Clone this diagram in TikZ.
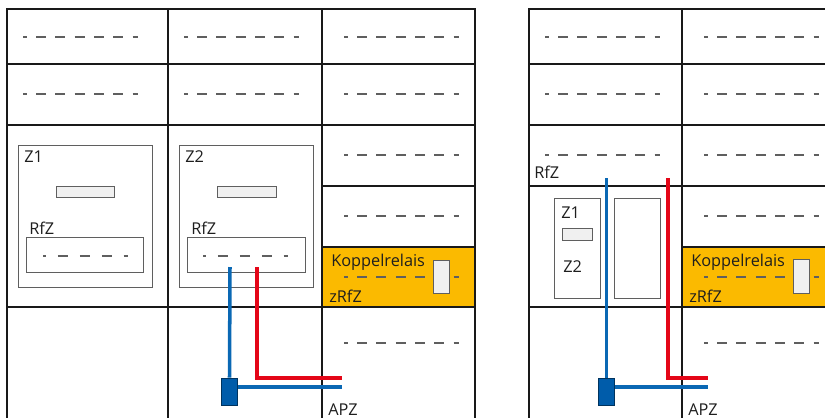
\documentclass[tikz,border=0pt]{standalone}
\usepackage{fontspec}
\setmainfont{Open Sans}
\usetikzlibrary{positioning}

\definecolor{relaisorange}{RGB}{251,186,0}
\definecolor{wireblue}{RGB}{10,104,180}
\definecolor{klemmeblue}{RGB}{0,92,170}
\definecolor{wirered}{RGB}{228,6,24}
\definecolor{boxgray}{RGB}{240,240,240}
\definecolor{linegray}{RGB}{95,95,95}
\definecolor{txt}{RGB}{30,30,30}

\tikzset{
  frame/.style={line width=1.1pt,black!90},
  meterbox/.style={draw=linegray,line width=0.7pt},
  displaybox/.style={draw=linegray,fill=boxgray,line width=0.7pt},
  dashrow/.style={draw=linegray,line width=0.75pt,dash pattern=on 7.1pt off 6.6pt,dash phase=4.3pt},
  innerdash/.style={draw=linegray,line width=0.75pt,dash pattern=on 7.1pt off 8.5pt,dash phase=5pt},
  bluewire/.style={wireblue,line width=2.5pt},
  redwire/.style={wirered,line width=2.5pt},
  klemme/.style={draw=klemmeblue!55!black,fill=klemmeblue,line width=0.7pt,
    minimum width=10.7pt,minimum height=19.2pt,inner sep=0pt},
  lbl/.style={anchor=base west,inner sep=0pt,text=txt,font=\fontsize{11.6}{13}\selectfont}
}

\begin{document}
\begin{tikzpicture}[x=0.025cm,y=-0.025cm]
  \clip (0,0) rectangle (825,417);

  % orange Koppelrelais rows
  \fill[relaisorange] (322,247) rectangle (475,307);
  \fill[relaisorange] (682,247) rectangle (840,307);

  % dashed placeholders
  \foreach \x/\y in {23/37,184/37,344/37,23/94,184/94,344/94,344/155,344/216,344/277,344/343,
                     545/37,545/94,545/155,704/37,704/94,704/155,704/216,704/277,704/343}
    \draw[dashrow] (\x,\y) -- ++(115,0);

  % left cabinet
  \draw[frame] (7,9) rectangle (475,440);
  \draw[frame] (168,9) -- (168,440) (322,9) -- (322,440);
  \foreach \y in {64,125,307}
    \draw[frame] (7,\y) -- (475,\y);
  \draw[frame] (322,186) -- (475,186) (322,247) -- (475,247);

  % right cabinet
  \draw[frame] (529,9) rectangle (840,440);
  \draw[frame] (682,9) -- (682,440);
  \foreach \y in {64,125,186,307}
    \draw[frame] (529,\y) -- (840,\y);
  \draw[frame] (682,247) -- (840,247);

  % meters left
  \draw[meterbox] (18,145) rectangle (152,287);
  \draw[displaybox] (56,186) rectangle (114,197);
  \draw[meterbox] (26,237) rectangle (143,272);
  \draw[innerdash] (43,256) -- ++(85,0);
  \node[lbl] (z1) at (24,162) {Z1};
  \node[lbl] (rfz1) at (29,234) {RfZ};

  \draw[meterbox] (179,145) rectangle (313,287);
  \draw[displaybox] (217,186) rectangle (276,197);
  \draw[meterbox] (187,237) rectangle (305,272);
  \draw[innerdash] (203,256) -- ++(85,0);
  \node[lbl] (z2) at (185,162) {Z2};
  \node[lbl] (rfz2) at (191,234) {RfZ};

  % Koppelrelais left
  \draw[displaybox] (433,260) rectangle (449,293);
  \node[lbl] (koppelA) at (331,266) {Koppelrelais};
  \node[lbl] (zrfzA) at (329,302) {zRfZ};
  \node[lbl] (apzA) at (328,415) {APZ};

  % meters right
  \draw[meterbox] (554,198) rectangle (600,298);
  \draw[displaybox] (562,228) rectangle (592,240);
  \draw[meterbox] (614,198) rectangle (660,298);
  \node[lbl] (z1b) at (561,218) {Z1};
  \node[lbl] (z2b) at (563,272) {Z2};
  \node[lbl] (rfzb) at (534,178) {RfZ};

  % Koppelrelais right
  \draw[displaybox] (793,259) rectangle (809,293);
  \node[lbl] (koppelB) at (691,266) {Koppelrelais};
  \node[lbl] (zrfzB) at (689,302) {zRfZ};
  \node[lbl] (apzB) at (688,415) {APZ};

  % wiring left
  \coordinate (blueA) at (230,267);
  \coordinate (redA) at (257,267);
  \coordinate (endblueA) at (342,387);
  \coordinate (endredA) at (342,378);
  \node[klemme] (klemmeA) at (229.5,391.5) {};
  \draw[redwire] (redA) |- (endredA);
  \draw[bluewire] (blueA) -- (klemmeA.north);
  \draw[bluewire] (klemmeA.east |- endblueA) -- (endblueA);

  % wiring right
  \coordinate (blueB) at (606.5,178);
  \coordinate (redB) at (668,178);
  \coordinate (endblueB) at (708,387);
  \coordinate (endredB) at (708,378);
  \node[klemme] (klemmeB) at (606.5,392) {};
  \draw[redwire] (redB) |- (endredB);
  \draw[bluewire] (blueB) -- (klemmeB.north);
  \draw[bluewire] (klemmeB.east |- endblueB) -- (endblueB);
\end{tikzpicture}
\end{document}
